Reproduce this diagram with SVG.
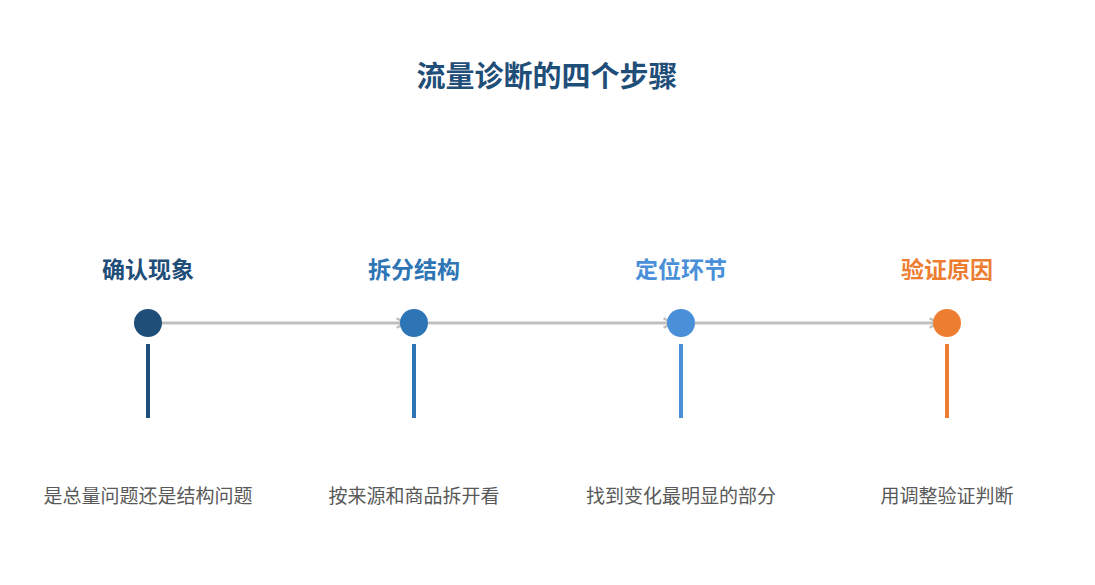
<svg xmlns="http://www.w3.org/2000/svg" width="1095" height="585" viewBox="0 0 1095 585">
<style>
.t{font-family:"Noto Sans CJK SC","Liberation Sans",sans-serif;text-anchor:middle}
.title{font-size:29px;font-weight:bold;fill:#1f4e79}
.lab{font-size:23px;font-weight:bold}
.desc{font-size:19px;fill:#595959}
.conn{stroke:#bfbfbf;stroke-width:3;fill:none}
</style>
<defs>
<marker id="arr" viewBox="0 0 10 10" refX="8" refY="5" markerWidth="4" markerHeight="4" orient="auto" markerUnits="strokeWidth">
<path d="M1,1 L8,5 L1,9" fill="none" stroke="#bfbfbf" stroke-width="2"/>
</marker>
</defs>
<rect width="1095" height="585" fill="#ffffff"/>
<text class="t title" x="547" y="87">流量诊断的四个步骤</text>
<g id="connectors">
<line class="conn" x1="162" y1="323" x2="405" y2="323" marker-end="url(#arr)"/>
<line class="conn" x1="428" y1="323" x2="672" y2="323" marker-end="url(#arr)"/>
<line class="conn" x1="695" y1="323" x2="938" y2="323" marker-end="url(#arr)"/>
</g>
<g id="step1">
<text class="t lab" x="148" y="278" fill="#1f4e79">确认现象</text>
<circle cx="148" cy="323" r="14" fill="#1f4e79"/>
<rect x="146" y="344" width="4" height="74" fill="#1f4e79"/>
<text class="t desc" x="148" y="503">是总量问题还是结构问题</text>
</g>
<g id="step2">
<text class="t lab" x="414" y="278" fill="#2e75b6">拆分结构</text>
<circle cx="414" cy="323" r="14" fill="#2e75b6"/>
<rect x="412" y="344" width="4" height="74" fill="#2e75b6"/>
<text class="t desc" x="414" y="503">按来源和商品拆开看</text>
</g>
<g id="step3">
<text class="t lab" x="681" y="278" fill="#4a90d9">定位环节</text>
<circle cx="681" cy="323" r="14" fill="#4a90d9"/>
<rect x="679" y="344" width="4" height="74" fill="#4a90d9"/>
<text class="t desc" x="681" y="503">找到变化最明显的部分</text>
</g>
<g id="step4">
<text class="t lab" x="947" y="278" fill="#ed7d31">验证原因</text>
<circle cx="947" cy="323" r="14" fill="#ed7d31"/>
<rect x="945" y="344" width="4" height="74" fill="#ed7d31"/>
<text class="t desc" x="947" y="503">用调整验证判断</text>
</g>
</svg>
